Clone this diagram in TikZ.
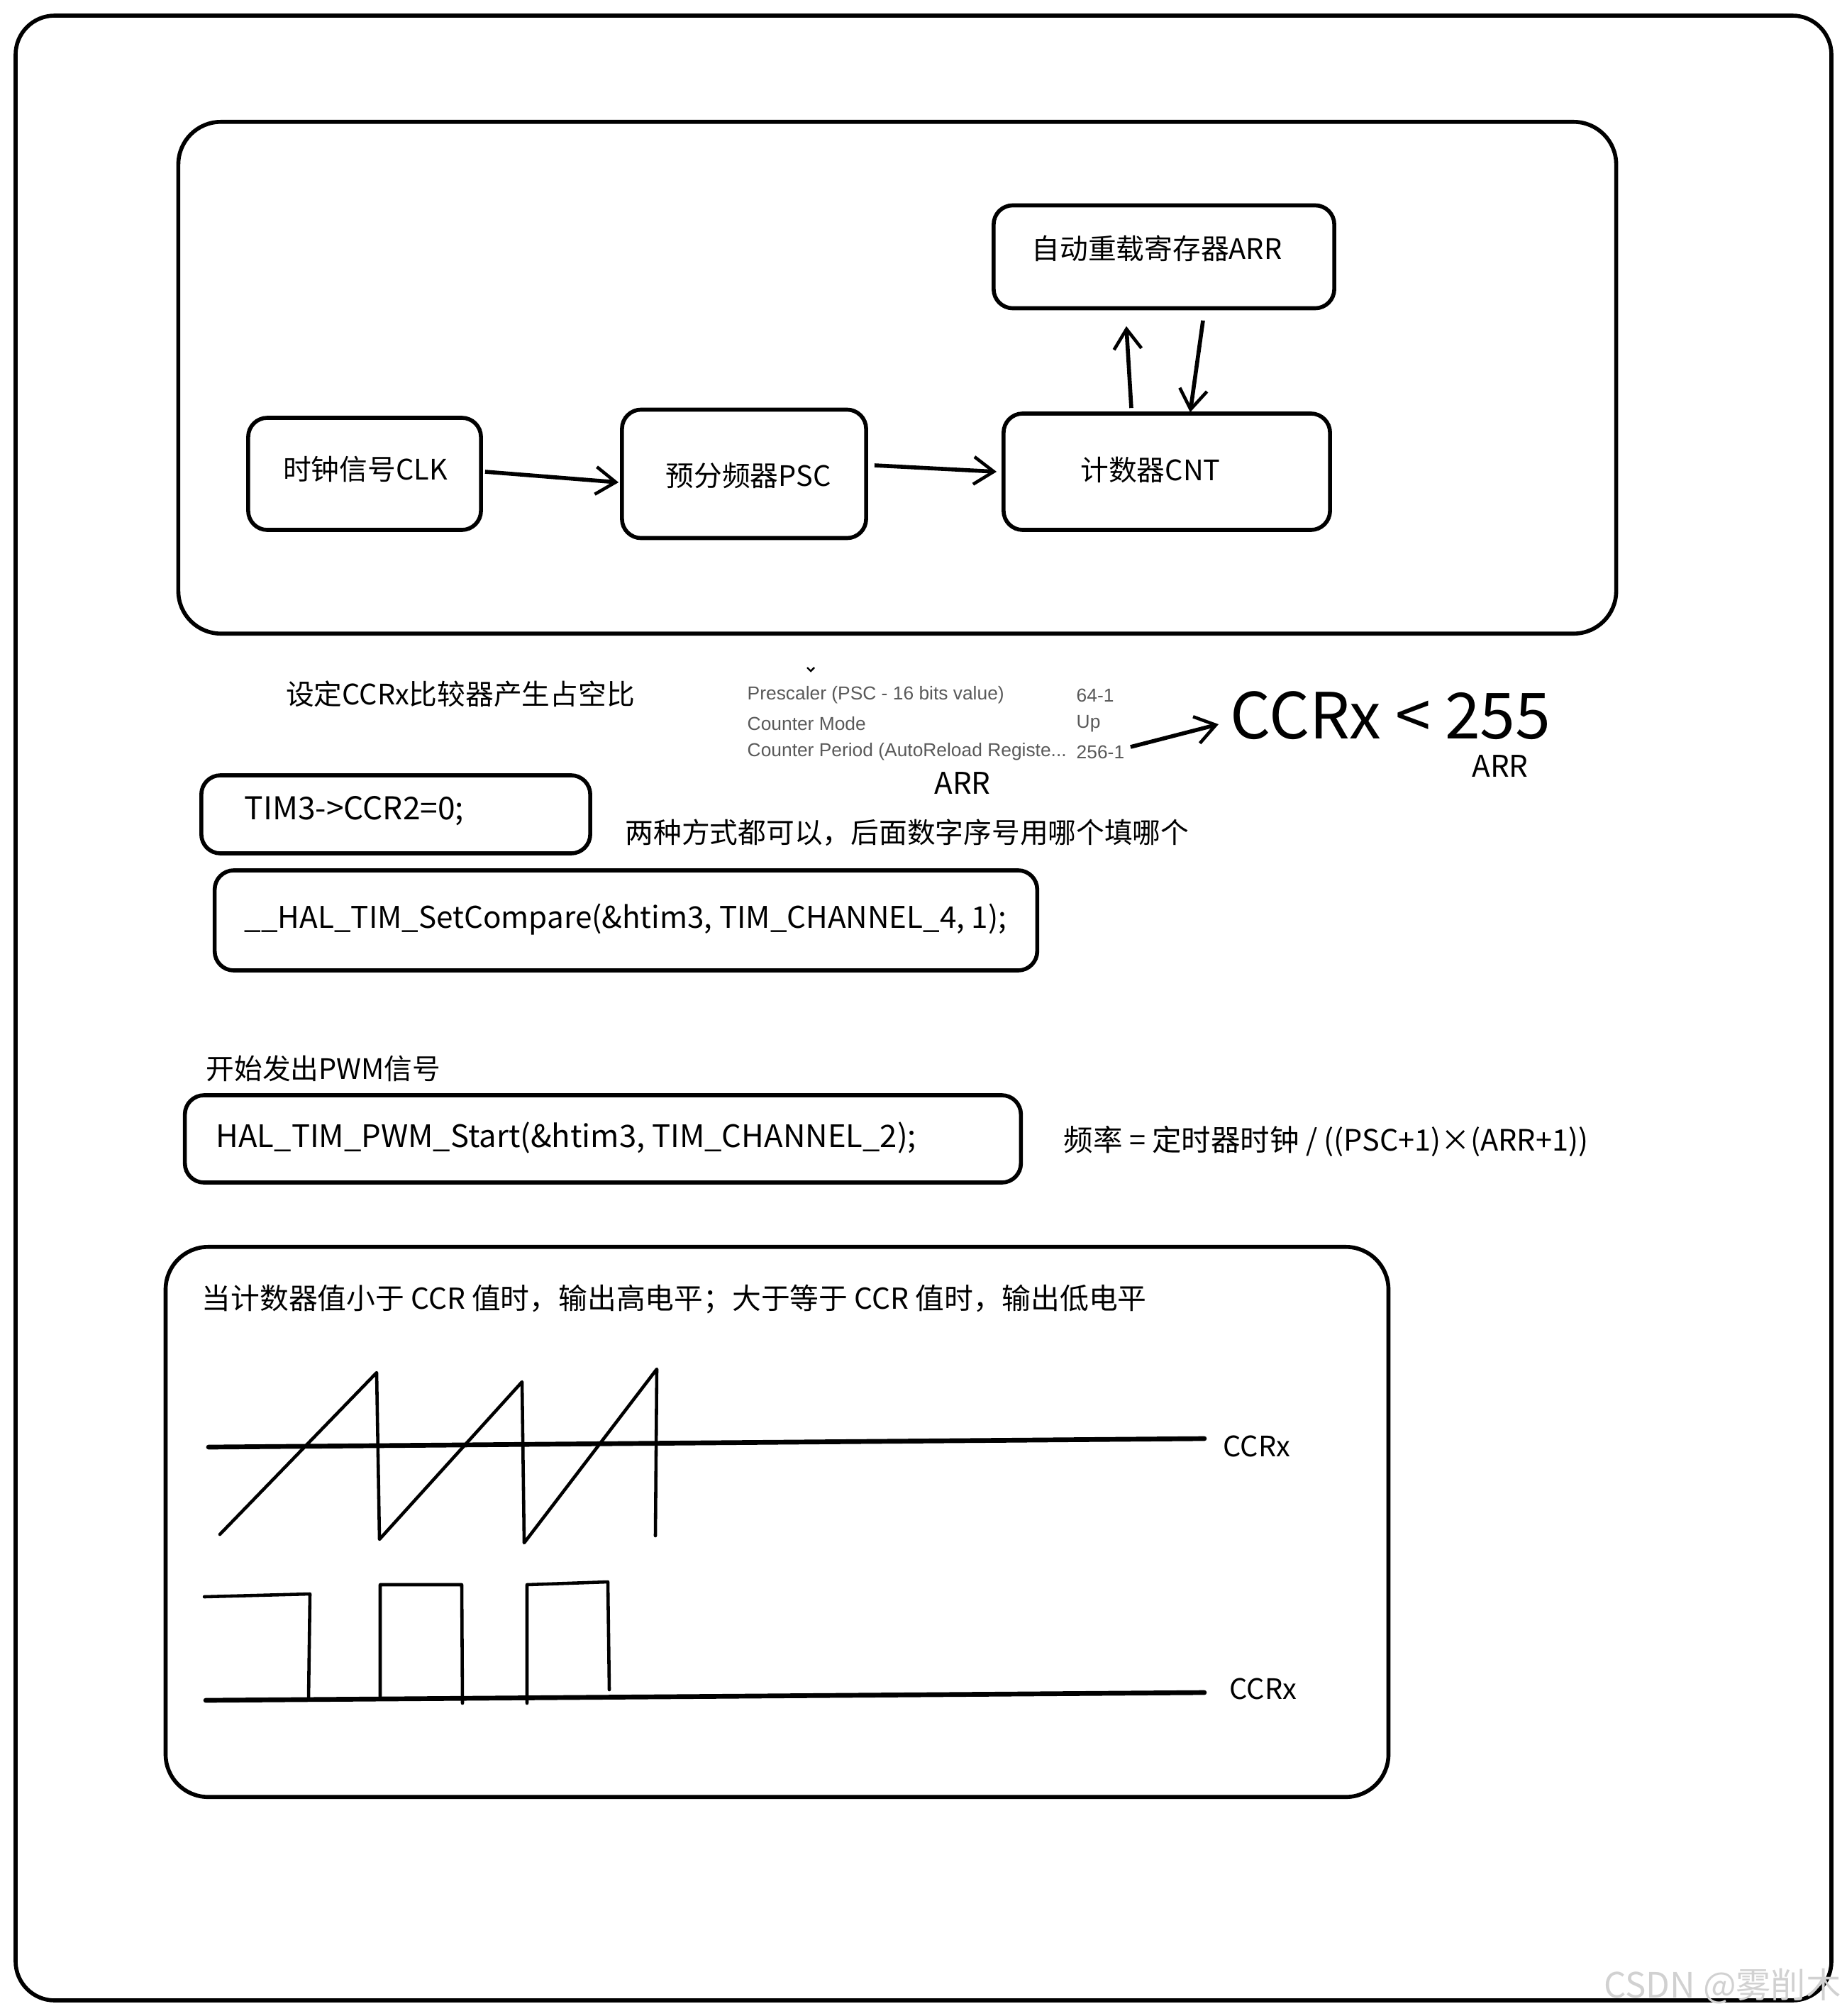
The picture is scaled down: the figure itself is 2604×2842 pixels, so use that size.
\documentclass[tikz,border=0pt]{standalone}
\usepackage{fontspec}
\setmainfont{Noto Sans CJK SC}
\newfontfamily\shotfont{Liberation Sans}
\usetikzlibrary{arrows.meta}
\begin{document}
\begin{tikzpicture}[x=0.01cm,y=-0.01cm,
  every node/.style={font=\fontsize{11.3}{13}\selectfont, inner sep=0pt},
  box/.style={draw, line width=1.6pt, rounded corners=0.27cm},
  panel/.style={draw, line width=1.6pt, rounded corners=0.6cm},
  conn/.style={line width=1.6pt, -{Straight Barb[length=8pt,width=11pt,line width=1.3pt]}},
  wave/.style={line width=1.3pt, line join=round, line cap=round},
  axisline/.style={line width=1.9pt, line cap=round},
  shot/.style={font=\shotfont\fontsize{7.5}{9}\selectfont, text=black!65, anchor=west},
  code/.style={anchor=west, font=\fontsize{12}{14}\selectfont},
]
\useasboundingbox (0,0) rectangle (2604,2842);
\draw[line width=1.6pt, rounded corners=0.55cm] (22,22) rectangle (2582,2820);

% top panel
\node[panel, minimum width=20.26cm, minimum height=7.21cm] (top) at (1265,532.5) {};
\node[box, minimum width=3.28cm, minimum height=1.58cm] (clk) at (514,668) {};
\node (clktxt) at (515,661) {时钟信号CLK};
\node[box, minimum width=3.44cm, minimum height=1.81cm] (psc) at (1049,668) {};
\node (psctxt) at (1055,670) {预分频器PSC};
\node[box, minimum width=4.60cm, minimum height=1.64cm] (cnt) at (1645,665) {};
\node (cnttxt) at (1622,662) {计数器CNT};
\node[box, minimum width=4.80cm, minimum height=1.45cm] (arr) at (1641,362) {};
\node (arrtxt) at (1631,350) {自动重载寄存器ARR};

\draw[conn] ([xshift=0.03cm,yshift=0.03cm]clk.east) -- ([xshift=-0.02cm,yshift=-0.12cm]psc.west);
\draw[conn] ([xshift=0.09cm,yshift=0.12cm]psc.east) -- ([xshift=-0.07cm]cnt.west);
\draw[conn] ([xshift=-0.50cm,yshift=0.05cm]cnt.north) -- ([xshift=-0.53cm,yshift=-0.225cm]arr.south);
\draw[conn] ([xshift=0.55cm,yshift=-0.145cm]arr.south) -- ([xshift=0.33cm,yshift=-0.01cm]cnt.north);

% middle texts
\node (duty) at (649,978) {设定CCRx比较器产生占空比};
\draw[line width=0.7pt] (1138,941) -- (1143,946) -- (1148,941);
\node[shot] (s1) at (1053,980) {Prescaler (PSC - 16 bits value)};
\node[shot] (s1v) at (1517,980) {64-1};
\node[shot] (s2) at (1053,1020) {Counter Mode};
\node[shot] (s2v) at (1517,1020) {Up};
\node[shot] (s3) at (1053,1060) {Counter Period (AutoReload Registe...};
\node[shot] (s3v) at (1517,1060) {256-1};
\node[anchor=west, font=\fontsize{25.5}{30}\selectfont] (big) at (1734,1009) {CCRx < 255};
\draw[conn] ([xshift=0.08cm,yshift=0.07cm]s3v.east) -- ([xshift=-0.16cm,yshift=-0.12cm]big.west);
\node[font=\fontsize{12}{14}\selectfont] (arrb) at (2115,1080) {ARR};
\node[font=\fontsize{12}{14}\selectfont] (arra) at (1357,1104) {ARR};

\node[box, minimum width=5.48cm, minimum height=1.10cm] (ccrbox) at (558,1148) {};
\node[code, font=\fontsize{12.6}{14}\selectfont] (ccrtxt) at (344,1143) {TIM3->CCR2=0;};
\node[anchor=west] (note) at (881,1174) {两种方式都可以，后面数字序号用哪个填哪个};
\node[box, minimum width=11.59cm, minimum height=1.41cm] (cmpbox) at (882.5,1297.5) {};
\node[code] (cmptxt) at (344,1296) {\_\_HAL\_TIM\_SetCompare(\&htim3, TIM\_CHANNEL\_4, 1);};

\node[anchor=west] (pwmtitle) at (290,1506) {开始发出PWM信号};
\node[box, minimum width=11.78cm, minimum height=1.23cm] (pwmbox) at (850,1605.5) {};
\node[code, font=\fontsize{12.4}{14}\selectfont] (pwmtxt) at (304,1604) {HAL\_TIM\_PWM\_Start(\&htim3, TIM\_CHANNEL\_2);};
\node[anchor=west, font=\fontsize{11.8}{14}\selectfont] (freq) at (1499,1609) {频率 = 定时器时钟 / ((PSC+1)×(ARR+1))};

% bottom panel
\node[panel, minimum width=17.23cm, minimum height=7.75cm] (bot) at (1095.5,2145.5) {};
\node[anchor=west, font=\fontsize{11.6}{14}\selectfont] (rule) at (284,1832) {当计数器值小于 CCR 值时，输出高电平；大于等于 CCR 值时，输出低电平};

\node[anchor=west] (lab1) at (1724,2039) {CCRx};
\coordinate (l1s) at (294,2040);
\draw[axisline] (l1s) -- ([xshift=-0.26cm,yshift=0.11cm]lab1.west);
\draw[wave] (310,2163) -- (531,1935) -- (535,2170) -- (736,1948) -- (739,2175) -- (926,1930) -- (924,2165);

\node[anchor=west] (lab2) at (1733,2381) {CCRx};
\coordinate (l2s) at (290,2397);
\draw[axisline] (l2s) -- ([xshift=-0.35cm,yshift=-0.05cm]lab2.west);
\draw[wave] (288,2251) -- (437,2247) -- (435,2395);
\draw[wave] (536,2392) -- (536,2234) -- (651,2234) -- (652,2401);
\draw[wave] (743,2401) -- (743,2234) -- (857,2230) -- (859,2382);

\node[anchor=east, text=black!18, font=\fontsize{14}{16}\selectfont] (wm) at (2596,2800) {CSDN @雾削木};
\end{tikzpicture}
\end{document}
